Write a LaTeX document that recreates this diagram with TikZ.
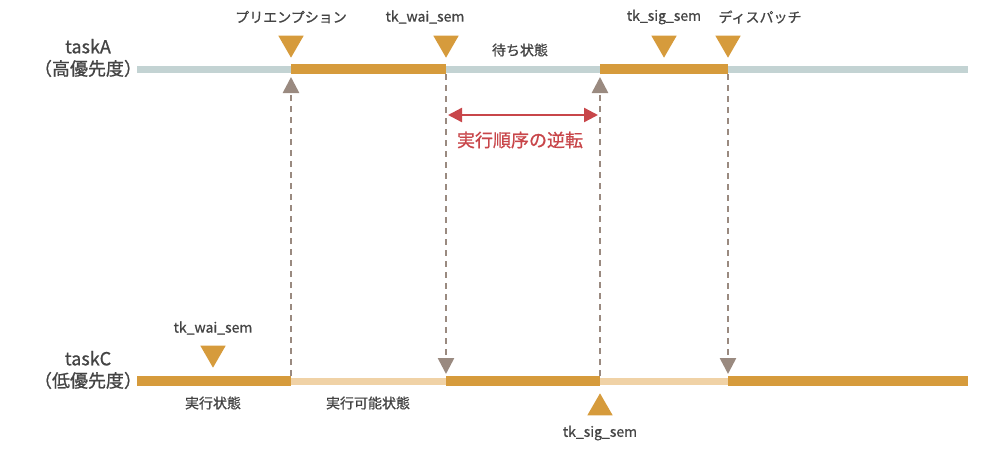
\documentclass[tikz,border=0pt]{standalone}
\usepackage{fontspec}
\setmainfont{Noto Sans CJK JP}[FakeBold=0.8]
\usetikzlibrary{arrows.meta,shapes.geometric}
\definecolor{runC}{HTML}{D69B3C}
\definecolor{readyC}{HTML}{F0D2A6}
\definecolor{waitC}{HTML}{C3D3D3}
\definecolor{markC}{HTML}{D69B3C}
\definecolor{dashC}{HTML}{9A8A80}
\definecolor{invC}{HTML}{C8464A}
\definecolor{textC}{HTML}{444444}
\tikzset{
  lbl/.style={font=\fontsize{7}{8}\selectfont, text=textC, inner sep=1pt},
  task/.style={font=\fontsize{9}{11}\selectfont, text=textC, align=center, inner sep=1pt},
  mark/.style={isosceles triangle, isosceles triangle apex angle=60, fill=markC,
    inner sep=0pt, minimum height=11pt, minimum width=11pt, shape border rotate=#1},
  jump/.style={dashC, line width=1.3pt, dash pattern=on 3pt off 2.5pt, -{Triangle[length=8pt,width=8pt]}},
}
\begin{document}
\begin{tikzpicture}[x=0.5pt,y=-0.5pt]
    \useasboundingbox (0,0) rectangle (1000,450);

    % task names
    \node[task] (ta) at (88,58) {taskA\\（高優先度）};
    \node[task] (tc) at (88,370) {taskC\\（低優先度）};

    % taskA line
    \draw[waitC, line width=3.5pt] (137,69) -- (968,69);
    \draw[runC, line width=5pt] (291,69) -- (446,69);
    \draw[runC, line width=5pt] (600,69) -- (728,69);

    % taskC line
    \draw[readyC, line width=3.5pt] (291,381) -- (446,381);
    \draw[readyC, line width=3.5pt] (600,381) -- (728,381);
    \draw[runC, line width=5pt] (137,381) -- (291,381);
    \draw[runC, line width=5pt] (446,381) -- (600,381);
    \draw[runC, line width=5pt] (728,381) -- (968,381);

    % markers
    \node[mark=270] (m1) at (291,43) {};
    \node[mark=270] (m2) at (446,43) {};
    \node[mark=270] (m3) at (664,43) {};
    \node[mark=270] (m4) at (728,43) {};
    \node[mark=270] (m5) at (213,353) {};
    \node[mark=90] (m6) at (600,408) {};
    \node[lbl] at (291,17) {プリエンプション};
    \node[lbl] at (425,17) {tk\_wai\_sem};
    \node[lbl] at (664,17) {tk\_sig\_sem};
    \node[lbl] at (760,17) {ディスパッチ};
    \node[lbl] at (213,328) {tk\_wai\_sem};
    \node[lbl] at (600,433) {tk\_sig\_sem};
    \node[lbl] at (520,50) {待ち状態};
    \node[lbl] at (213,403) {実行状態};
    \node[lbl] at (368,403) {実行可能状態};

    % switches
    \coordinate (a1) at (291,77);  \coordinate (c1) at (291,376);
    \coordinate (a2) at (446,74);  \coordinate (c2) at (446,374);
    \coordinate (a3) at (600,77);  \coordinate (c3) at (600,376);
    \coordinate (a4) at (728,74);  \coordinate (c4) at (728,374);
    \draw[jump] (c1) -- (a1);
    \draw[jump] (a2) -- (c2);
    \draw[jump] (c3) -- (a3);
    \draw[jump] (a4) -- (c4);

    % inversion
    \coordinate (i1) at (448,115);
    \coordinate (i2) at (598,115);
    \draw[invC, line width=1.2pt, {Triangle[length=7pt,width=7pt]}-{Triangle[length=7pt,width=7pt]}] (i1) -- (i2);
    \node[lbl, text=invC, font=\fontsize{9}{11}\selectfont] (inv) at (520,140) {実行順序の逆転};
\end{tikzpicture}
\end{document}
